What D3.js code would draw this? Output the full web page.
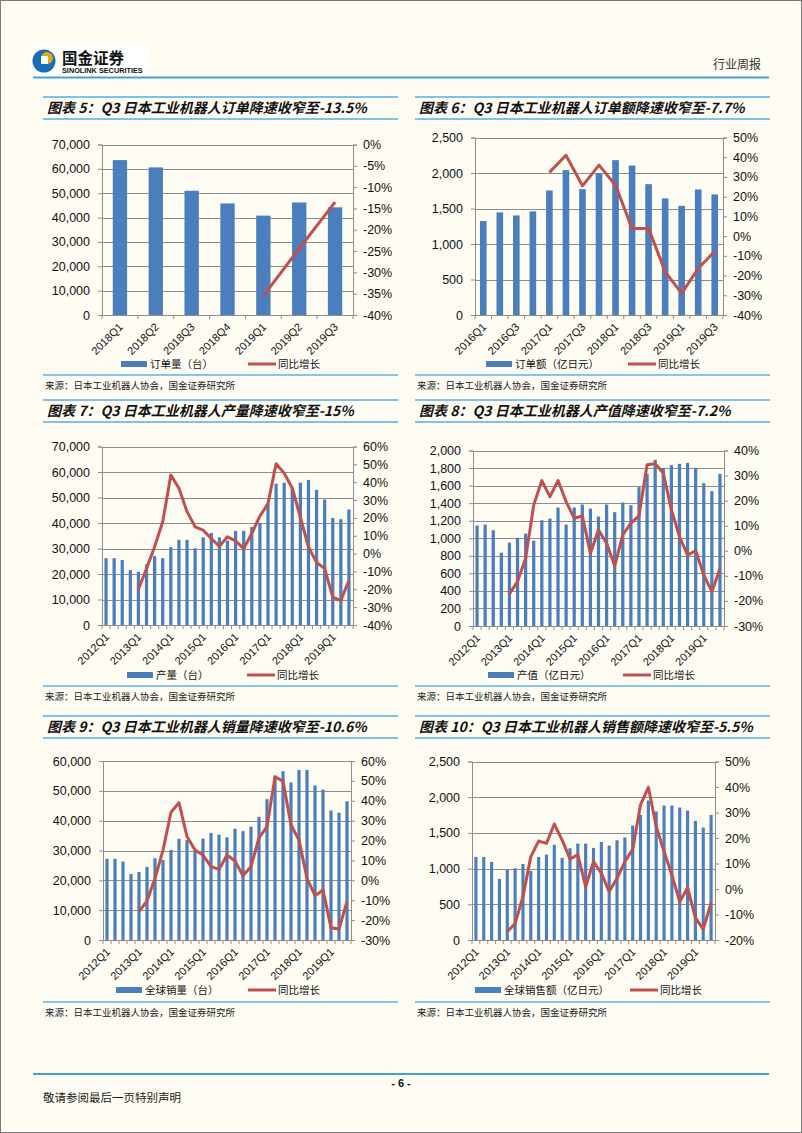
<!DOCTYPE html>
<html><head><meta charset="utf-8">
<script src="https://cdn.jsdelivr.net/npm/d3@7/dist/d3.min.js"></script>
<style>
html,body{margin:0;padding:0;background:#FEFCF3;}
svg{display:block;}
</style></head><body>
<svg id="page" width="802" height="1133"></svg>
<script>
// ---------- DATA ----------
const quarters7 = ["2018Q1","2018Q2","2018Q3","2018Q4","2019Q1","2019Q2","2019Q3"];
const orders = [63600,60600,51000,45800,40800,46200,44200];
const ordersYoY = [null,null,null,null,-35.5,-24.4,-13.5];
const ordersLeftTicks = [0,10000,20000,30000,40000,50000,60000,70000];
const ordersRightTicks = [-40,-35,-30,-25,-20,-15,-10,-5,0];

const quarters15 = ["2016Q1","2016Q2","2016Q3","2016Q4","2017Q1","2017Q2","2017Q3","2017Q4","2018Q1","2018Q2","2018Q3","2018Q4","2019Q1","2019Q2","2019Q3"];
const quarters15Labels = ["2016Q1","2016Q3","2017Q1","2017Q3","2018Q1","2018Q3","2019Q1","2019Q3"];
const orderValue = [1323,1445,1402,1459,1754,2040,1773,1998,2181,2106,1843,1642,1538,1768,1698];
const orderValueYoY = [null,null,null,null,32.3,41,25.5,36,25.8,3.9,3.9,-18,-29,-16.4,-7.7];
const orderValueLeftTicks = [0,500,1000,1500,2000,2500];
const orderValueRightTicks = [-40,-30,-20,-10,0,10,20,30,40,50];

const quarters31 = ["2012Q1","2012Q2","2012Q3","2012Q4","2013Q1","2013Q2","2013Q3","2013Q4",
  "2014Q1","2014Q2","2014Q3","2014Q4","2015Q1","2015Q2","2015Q3","2015Q4",
  "2016Q1","2016Q2","2016Q3","2016Q4","2017Q1","2017Q2","2017Q3","2017Q4",
  "2018Q1","2018Q2","2018Q3","2018Q4","2019Q1","2019Q2","2019Q3"];
const quarters31Labels = ["2012Q1","2013Q1","2014Q1","2015Q1","2016Q1","2017Q1","2018Q1","2019Q1"];

const production = [26200,26200,25500,21500,20900,23800,27000,26200,30500,33400,33400,30100,34400,36100,34400,33100,
  36900,36900,38400,40100,47500,55400,55800,53800,55800,56900,53000,49200,42000,41500,45300];
const productionYoY = [null,null,null,null,-20,-8.4,3.8,17.8,44,36.6,23.5,15,13.1,8.4,4.1,9.4,
  7.1,2.8,11.3,21,28,50.3,45,36.6,20.3,3.8,-5,-8.4,-24.4,-26.3,-15];
const productionLeftTicks = [0,10000,20000,30000,40000,50000,60000,70000];
const productionRightTicks = [-40,-30,-20,-10,0,10,20,30,40,50,60];

const prodValue = [1144,1156,1091,836,950,1004,1053,973,1205,1224,1350,1156,1350,1384,1338,1247,
  1384,1297,1407,1376,1582,1734,1894,1802,1833,1848,1859,1802,1627,1536,1734];
const prodValueYoY = [null,null,null,null,-17.2,-12.3,-3,18.3,28,21.6,28,19.6,13,13.9,-1,8.3,
  3,-6,6.3,11,13.9,34.3,34.7,31,16.4,5.7,-1.7,0,-9.6,-16.3,-7.2];
const prodValueLeftTicks = [0,200,400,600,800,1000,1200,1400,1600,1800,2000];
const prodValueRightTicks = [-30,-20,-10,0,10,20,30,40];

const sales = [27200,27200,26300,22100,22800,24500,27400,26800,30200,33900,33500,30000,34000,35900,35300,34400,
  37300,36500,38000,41300,47200,55100,56600,52800,57000,57000,51800,50400,43400,42700,46500];
const salesYoY = [null,null,null,null,-15.7,-10.4,1,15.2,34.2,39,22,15.2,12.7,6.9,5.5,12.7,
  9.7,2.3,6.9,21.4,27,52,49.9,27.8,20.3,1,-7.7,-4.9,-23.8,-24.5,-10.6];
const salesLeftTicks = [0,10000,20000,30000,40000,50000,60000];
const salesRightTicks = [-30,-20,-10,0,10,20,30,40,50,60];

const salesValue = [1163,1163,1093,855,981,1005,1065,967,1163,1196,1332,1150,1285,1350,1350,1290,
  1374,1322,1397,1435,1603,1752,1953,1799,1883,1883,1855,1813,1668,1575,1752];
const salesValueYoY = [null,null,null,null,-16.8,-13.5,-3,12.7,18.8,17.9,25.5,19.2,11.8,13.4,0.9,10.7,
  6.2,-1,4.2,10.7,15.6,33,39.9,24.5,14.7,5.5,-5,0.5,-11.3,-15.7,-5.5];
const salesValueLeftTicks = [0,500,1000,1500,2000,2500];
const salesValueRightTicks = [-20,-10,0,10,20,30,40,50];

const titles = [
  "图表 5：Q3 日本工业机器人订单降速收窄至-13.5%",
  "图表 6：Q3 日本工业机器人订单额降速收窄至-7.7%",
  "图表 7：Q3 日本工业机器人产量降速收窄至-15%",
  "图表 8：Q3 日本工业机器人产值降速收窄至-7.2%",
  "图表 9：Q3 日本工业机器人销量降速收窄至-10.6%",
  "图表 10：Q3 日本工业机器人销售额降速收窄至-5.5%"
];
const barLegends = ["订单量（台）","订单额（亿日元）","产量（台）","产值（亿日元）","全球销量（台）","全球销售额（亿日元）"];
const lineLegend = "同比增长";
const sourceText = "来源：日本工业机器人协会，国金证券研究所";

// ---------- STYLE ----------
const BLUE = "#4A7EBD", RED = "#C0504D", GRID = "#8E8E8E", AXIS = "#8E8E8E";
const CJK = "'Noto Sans CJK SC','Noto Sans',sans-serif";
const NUM = "'Liberation Sans',Arial,sans-serif";

const svg = d3.select("#page");
svg.append("rect").attr("x",0.5).attr("y",0.5).attr("width",801).attr("height",1132)
  .attr("fill","#FEFCF3").attr("stroke","#7a7a7a").attr("stroke-width",1);

// header
const logo = svg.append("g");
logo.append("rect").attr("x",30).attr("y",44).attr("width",118).attr("height",33).attr("fill","#ffffff");
logo.append("circle").attr("cx",44).attr("cy",61).attr("r",11.5).attr("fill","#1C6CB5");
logo.append("circle").attr("cx",47).attr("cy",58).attr("r",6).attr("fill","#E8A21E");
logo.append("rect").attr("x",41).attr("y",56).attr("width",7).attr("height",8).attr("fill","#ffffff");
logo.append("text").attr("x",62).attr("y",64).text("国金证券")
  .attr("font-family",CJK).attr("font-weight","bold").attr("font-size",15.5).attr("fill","#111");
logo.append("text").attr("x",62).attr("y",73).text("SINOLINK SECURITIES")
  .attr("font-family",NUM).attr("font-weight","bold").attr("font-size",7.3).attr("fill","#111");
svg.append("text").attr("x",761).attr("y",69).attr("text-anchor","end").text("行业周报")
  .attr("font-family",CJK).attr("font-size",12).attr("fill","#333");
svg.append("line").attr("x1",33).attr("x2",769).attr("y1",77.5).attr("y2",77.5)
  .attr("stroke","#3EA3DA").attr("stroke-width",2);

// footer
svg.append("line").attr("x1",33).attr("x2",769).attr("y1",1074).attr("y2",1074)
  .attr("stroke","#3EA3DA").attr("stroke-width",2);
svg.append("text").attr("x",401).attr("y",1087).attr("text-anchor","middle").text("- 6 -")
  .attr("font-family",NUM).attr("font-weight","bold").attr("font-size",11).attr("fill","#111");
svg.append("text").attr("x",43).attr("y",1102).text("敬请参阅最后一页特别声明")
  .attr("font-family",CJK).attr("font-size",11.5).attr("fill","#222");

// panels
const panels = [
  {px0:43, px1:398, titleTop:97, srcLine:375},
  {px0:415, px1:770, titleTop:97, srcLine:375},
  {px0:43, px1:398, titleTop:400, srcLine:686},
  {px0:415, px1:770, titleTop:400, srcLine:686},
  {px0:43, px1:398, titleTop:716, srcLine:1002},
  {px0:415, px1:770, titleTop:716, srcLine:1002}
];
panels.forEach((p,i)=>{
  svg.append("line").attr("x1",p.px0).attr("x2",p.px1).attr("y1",p.titleTop).attr("y2",p.titleTop)
    .attr("stroke","#7CC3E6").attr("stroke-width",2);
  svg.append("line").attr("x1",p.px0).attr("x2",p.px1).attr("y1",p.titleTop+22).attr("y2",p.titleTop+22)
    .attr("stroke","#7CC3E6").attr("stroke-width",2);
  svg.append("text").attr("x",p.px0+4).attr("y",p.titleTop+16).text(titles[i])
    .attr("font-family",CJK).attr("font-weight","bold").attr("font-style","italic")
    .attr("font-size",14).attr("fill","#111");
  svg.append("line").attr("x1",p.px0).attr("x2",p.px1).attr("y1",p.srcLine).attr("y2",p.srcLine)
    .attr("stroke","#5CB6E4").attr("stroke-width",1.5);
  svg.append("text").attr("x",p.px0+2).attr("y",p.srcLine+14).text(sourceText)
    .attr("font-family",CJK).attr("font-size",9.5).attr("fill","#222");
});

function drawChart(cfg){
  const g = svg.append("g");
  const x = d3.scaleBand().domain(cfg.cats).range([cfg.x0,cfg.x1]);
  const yL = d3.scaleLinear().domain([0,d3.max(cfg.leftTicks)]).range([cfg.yBot,cfg.yTop]);
  const yR = d3.scaleLinear().domain(d3.extent(cfg.rightTicks)).range([cfg.yBot,cfg.yTop]);
  // grid
  g.append("g").selectAll("line").data(cfg.leftTicks.filter(d=>d>0)).join("line")
    .attr("x1",cfg.x0).attr("x2",cfg.x1)
    .attr("y1",d=>Math.round(yL(d))+0.5).attr("y2",d=>Math.round(yL(d))+0.5)
    .attr("stroke",GRID).attr("stroke-width",1);
  // bars
  const bw = x.bandwidth()*0.4;
  g.append("g").selectAll("rect").data(cfg.bars).join("rect")
    .attr("x",(d,i)=>x(cfg.cats[i])+x.bandwidth()/2-bw/2)
    .attr("width",bw)
    .attr("y",d=>yL(d)).attr("height",d=>yL(0)-yL(d))
    .attr("fill",BLUE);
  // axes
  const la = g.append("g").attr("transform",`translate(${cfg.x0},0)`)
    .call(d3.axisLeft(yL).tickValues(cfg.leftTicks).tickSize(4).tickPadding(8).tickFormat(d3.format(",")));
  const ra = g.append("g").attr("transform",`translate(${cfg.x1},0)`)
    .call(d3.axisRight(yR).tickValues(cfg.rightTicks).tickSize(4).tickPadding(6).tickFormat(d=>d+"%"));
  [la,ra].forEach(a=>{
    a.selectAll("path,line").attr("stroke",AXIS);
    a.selectAll("text").attr("font-family",NUM).attr("font-size",12.5).attr("fill","#111");
  });
  // bottom axis
  g.append("line").attr("x1",cfg.x0).attr("x2",cfg.x1).attr("y1",cfg.yBot+0.5).attr("y2",cfg.yBot+0.5)
    .attr("stroke",AXIS);
  const bounds = cfg.cats.map(c=>x(c)).concat([cfg.x1]);
  g.append("g").selectAll("line").data(bounds).join("line")
    .attr("x1",d=>d).attr("x2",d=>d).attr("y1",cfg.yBot).attr("y2",cfg.yBot+4).attr("stroke",AXIS);
  g.append("g").selectAll("text").data(cfg.labels).join("text")
    .attr("transform",d=>`translate(${x(d)+x.bandwidth()/2+1},${cfg.yBot+10}) rotate(-45)`)
    .attr("text-anchor","end").attr("dy","0.35em")
    .attr("font-family",NUM).attr("font-size",11).attr("fill","#111").text(d=>d);
  // line
  const pts = cfg.line.map((v,i)=>({c:cfg.cats[i],v}));
  const ln = d3.line().defined(d=>d.v!==null).x(d=>x(d.c)+x.bandwidth()/2).y(d=>yR(d.v));
  g.append("path").datum(pts).attr("d",ln).attr("fill","none").attr("stroke",RED)
    .attr("stroke-width",3).attr("stroke-linejoin","round");
  // legend
  const L = cfg.legend;
  g.append("rect").attr("x",L.bx).attr("y",L.y-3).attr("width",26).attr("height",6).attr("fill",BLUE);
  g.append("text").attr("x",L.bx+29).attr("y",L.y+4).text(cfg.barLegend)
    .attr("font-family",CJK).attr("font-size",10.5).attr("fill","#111");
  g.append("line").attr("x1",L.lx).attr("x2",L.lx+28).attr("y1",L.y).attr("y2",L.y)
    .attr("stroke",RED).attr("stroke-width",3);
  g.append("text").attr("x",L.lx+30).attr("y",L.y+4).text(lineLegend)
    .attr("font-family",CJK).attr("font-size",10.5).attr("fill","#111");
}

drawChart({cats:quarters7,labels:quarters7,bars:orders,line:ordersYoY,leftTicks:ordersLeftTicks,rightTicks:ordersRightTicks,
  x0:102,x1:353,yTop:144.5,yBot:315,barLegend:barLegends[0],legend:{bx:121,lx:248,y:364}});
drawChart({cats:quarters15,labels:quarters15Labels,bars:orderValue,line:orderValueYoY,leftTicks:orderValueLeftTicks,rightTicks:orderValueRightTicks,
  x0:475,x1:723,yTop:137.5,yBot:315,barLegend:barLegends[1],legend:{bx:486,lx:628,y:364}});
drawChart({cats:quarters31,labels:quarters31Labels,bars:production,line:productionYoY,leftTicks:productionLeftTicks,rightTicks:productionRightTicks,
  x0:102,x1:353,yTop:446.5,yBot:625,barLegend:barLegends[2],legend:{bx:127,lx:247,y:675}});
drawChart({cats:quarters31,labels:quarters31Labels,bars:prodValue,line:prodValueYoY,leftTicks:prodValueLeftTicks,rightTicks:prodValueRightTicks,
  x0:473,x1:724,yTop:450.5,yBot:626,barLegend:barLegends[3],legend:{bx:488,lx:623,y:675}});
drawChart({cats:quarters31,labels:quarters31Labels,bars:sales,line:salesYoY,leftTicks:salesLeftTicks,rightTicks:salesRightTicks,
  x0:103,x1:351,yTop:761,yBot:940,barLegend:barLegends[4],legend:{bx:116,lx:248,y:990}});
drawChart({cats:quarters31,labels:quarters31Labels,bars:salesValue,line:salesValueYoY,leftTicks:salesValueLeftTicks,rightTicks:salesValueRightTicks,
  x0:472,x1:715,yTop:761.5,yBot:940,barLegend:barLegends[5],legend:{bx:475,lx:630,y:990}});
</script>
</body></html>
